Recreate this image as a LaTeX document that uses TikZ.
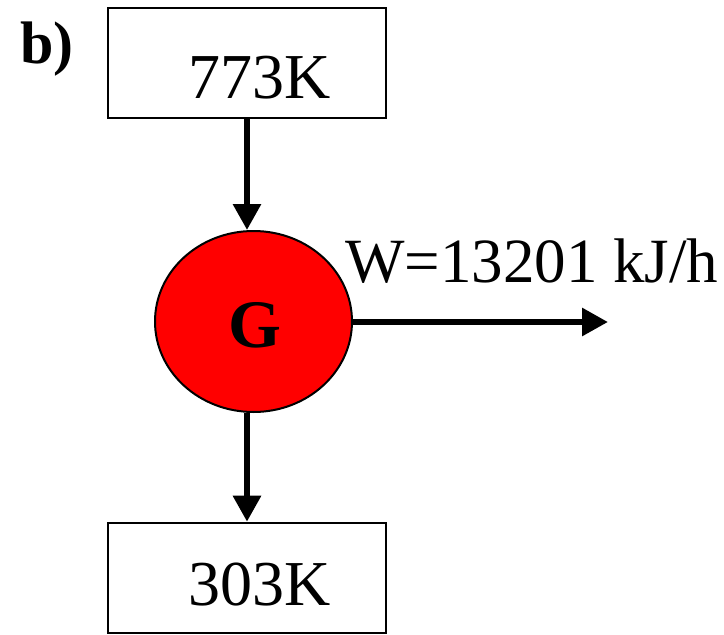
\documentclass[tikz,border=0pt]{standalone}
\usepackage{fontspec}
\setmainfont{Liberation Serif}
\usetikzlibrary{shapes.geometric,arrows.meta}
\begin{document}
\begin{tikzpicture}[x=1pt,y=-1pt,
  box/.style={draw, line width=2.6pt, minimum width=278pt, minimum height=110pt, inner sep=0pt},
  bigtext/.style={font=\fontsize{64}{70}\selectfont, anchor=base, inner sep=0pt},
  arr/.style={line width=6pt, -{Triangle[length=26pt,width=27pt]}}]
\useasboundingbox (0,0) rectangle (724,635);
\node[box] (top) at (247,63) {};
\node[box] (bot) at (247,578) {};
\node[bigtext] (ttop) at (260,98) {773K};
\node[bigtext] (tbot) at (260,605) {303K};
\node[draw, line width=2pt, fill=red, ellipse, minimum width=197pt, minimum height=181pt, inner sep=0pt] (G) at (253.5,321.5) {};
\node[font=\fontsize{68}{74}\selectfont\bfseries, inner sep=0pt] (Gt) at (255,325) {G};
\node[font=\fontsize{60}{66}\selectfont\bfseries, anchor=base west, inner sep=0pt] (lab) at (20,63) {b)};
\node[font=\fontsize{63}{70}\selectfont, anchor=base west, inner sep=0pt] (W) at (345,282) {W=13201 kJ/h};
\coordinate (wend) at (608,322);
\draw[arr] (top.south -| 247,0) -- (G.north -| 247,0);
\draw[arr] (G.east |- 0,322) -- (wend);
\draw[arr] (G.south -| 247,0) -- (bot.north -| 247,0);
\end{tikzpicture}
\end{document}
